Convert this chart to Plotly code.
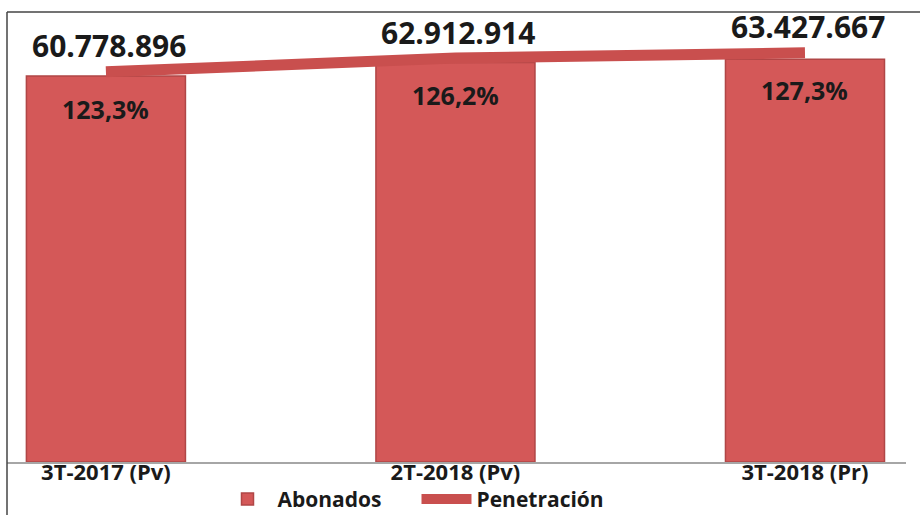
import plotly.graph_objects as go

categories = ["3T-2017 (Pv)", "2T-2018 (Pv)", "3T-2018 (Pr)"]
abonados = [60778896, 62912914, 63427667]
abonados_labels = ["60.778.896", "62.912.914", "63.427.667"]
penetracion = [123.3, 126.2, 127.3]
penetracion_labels = ["123,3%", "126,2%", "127,3%"]

x_idx = list(range(len(categories)))
FONT = "Open Sans"
BAR_COLOR = "#D45858"
LINE_COLOR = "#C94F4E"
TXT = "#1a1a1a"

fig = go.Figure()
fig.add_trace(go.Bar(
    x=x_idx, y=abonados, name="Abonados", width=0.455,
    marker=dict(color=BAR_COLOR, line=dict(color="#B04646", width=1.5)),
    hoverinfo="skip",
))
fig.add_trace(go.Scatter(
    x=x_idx, y=penetracion, name="Penetración", yaxis="y2", mode="lines",
    line=dict(color=LINE_COLOR, width=11), hoverinfo="skip",
))

annotations = []
for i in x_idx:
    annotations.append(dict(
        x=i, y=penetracion[i], xref="x", yref="y2", text=abonados_labels[i],
        showarrow=False, yanchor="middle", xanchor="center", yshift=26, xshift=3,
        font=dict(family=FONT, size=30, color=TXT, weight="bold"),
    ))
    annotations.append(dict(
        x=i, y=penetracion[i], xref="x", yref="y2", text=penetracion_labels[i],
        showarrow=False, yanchor="middle", xanchor="center", yshift=-37,
        font=dict(family=FONT, size=25, color=TXT, weight="bold"),
    ))

fig.update_layout(
    width=920, height=515,
    margin=dict(l=7, r=14, t=12, b=53, autoexpand=False),
    paper_bgcolor="white", plot_bgcolor="white",
    showlegend=True,
    legend=dict(orientation="h", x=0.4555, xanchor="center", y=-0.083, yanchor="middle",
                font=dict(family=FONT, size=21, color=TXT, weight="bold"),
                itemwidth=50, entrywidth=134, tracegroupgap=0, bgcolor="rgba(0,0,0,0)"),
    xaxis=dict(range=[-0.283, 2.289], tickmode="array", tickvals=x_idx, ticktext=categories,
               showgrid=False, zeroline=False, showline=True, linecolor="#A6A6A6", linewidth=2,
               ticks="", automargin=False, ticklabelstandoff=-10,
               tickfont=dict(family=FONT, size=22, color=TXT, weight="bold")),
    yaxis=dict(range=[0, 70.85e6], visible=False, showgrid=False, zeroline=False),
    yaxis2=dict(range=[41.2, 135.9], overlaying="y", visible=False, showgrid=False, zeroline=False),
    annotations=annotations,
    shapes=[
        dict(type="line", xref="paper", yref="paper", x0=0, x1=1.02, y0=1, y1=1,
             line=dict(color="#444", width=1.5)),
        dict(type="line", xref="paper", yref="paper", x0=0, x1=0, y0=1, y1=-0.2,
             line=dict(color="#444", width=1.5)),
    ],
)

fig.write_html("out.html", config={"displayModeBar": False},
               post_script="document.body.style.margin='0';")
